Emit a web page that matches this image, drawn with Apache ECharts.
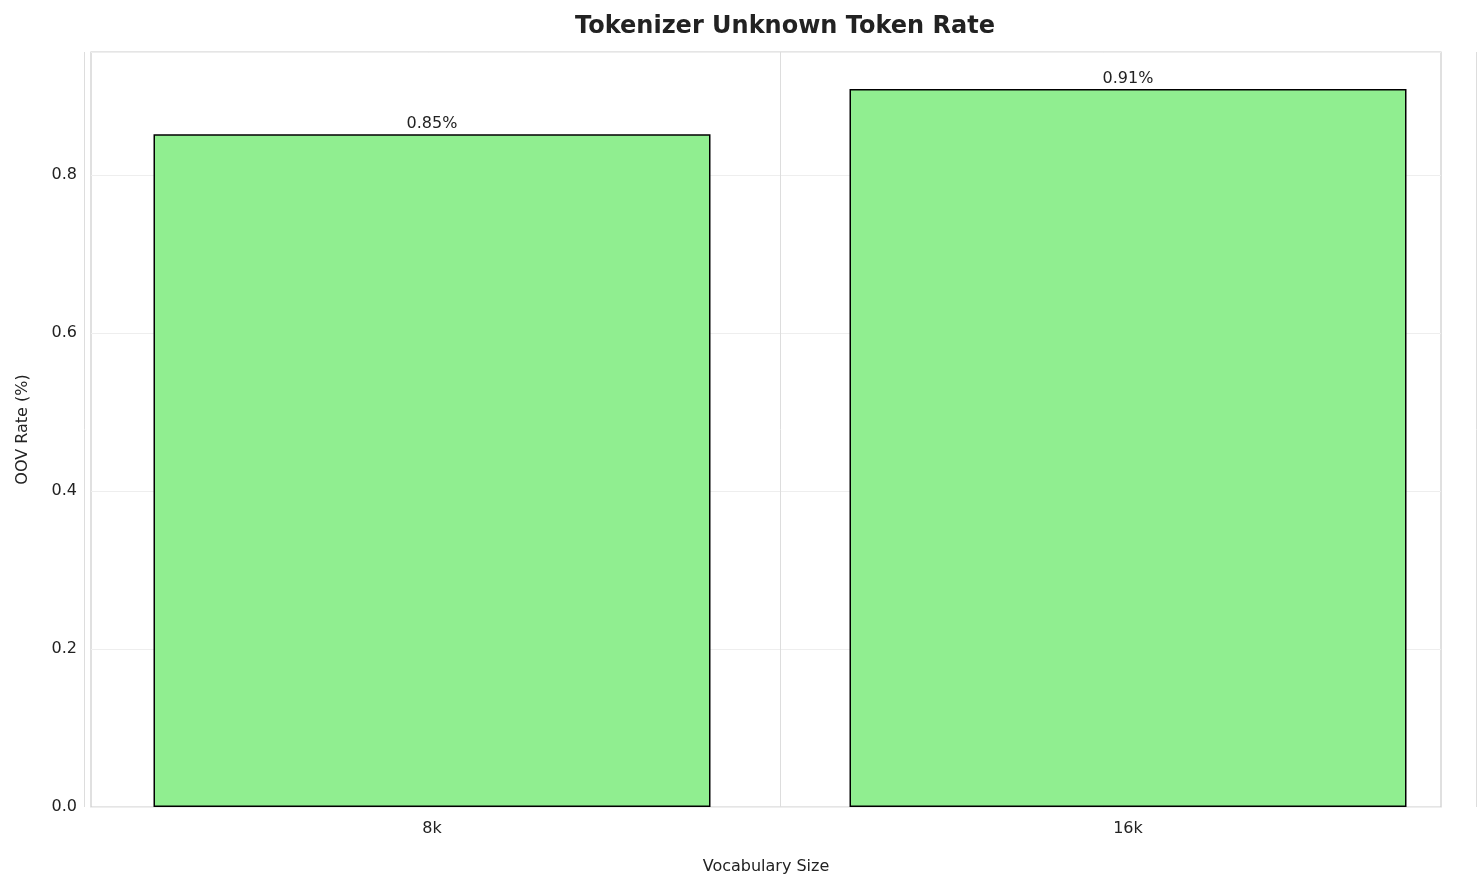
<!DOCTYPE html>
<html><head><meta charset="utf-8">
<script src="https://cdn.jsdelivr.net/npm/echarts@6/dist/echarts.min.js"></script>
<style>html,body{margin:0;padding:0;background:#fff}#c{width:1484px;height:885px}</style>
</head><body><div id="c"></div>
<script>
const categories = ['8k', '16k'];
const oovRate = [0.852, 0.909];
const yTicks = [0, 0.2, 0.4, 0.6, 0.8];
const font = 'DejaVu Sans';
const chart = echarts.init(document.getElementById('c'));
chart.setOption({
  animation: false,
  textStyle: {fontFamily: font},
  title: {text: 'Tokenizer Unknown Token Rate', left: 780, textAlign: 'center', top: 10,
    textStyle: {fontSize: 24, fontWeight: 'bold', color: '#222', fontFamily: font}},
  grid: [
    {left: 91, right: 43, top: 52, bottom: 78, show: true, borderColor: '#ccc', borderWidth: 1.2},
    {left: 84, right: 8, top: 52, bottom: 78}
  ],
  xAxis: [
    {gridIndex: 0, type: 'value', min: 0, max: 1, axisLabel: {show: false}, axisTick: {show: false},
      axisLine: {show: false}, splitLine: {show: false},
      name: 'Vocabulary Size', nameLocation: 'middle', nameGap: 52,
      nameTextStyle: {fontSize: 16, color: '#222'}},
    {gridIndex: 1, type: 'category', data: categories, axisTick: {show: false}, axisLine: {show: false},
      axisLabel: {fontSize: 16, color: '#222', margin: 14},
      splitLine: {show: true, interval: 0, lineStyle: {color: '#ddd'}}}
  ],
  yAxis: [
    {gridIndex: 0, type: 'value', min: 0, max: 0.956, interval: 0.2,
      axisLabel: {fontSize: 16, color: '#222', margin: 14, formatter: v => yTicks.includes(+v.toFixed(1)) ? v.toFixed(1) : ''},
      axisTick: {show: false}, axisLine: {show: false},
      splitLine: {lineStyle: {color: '#eee'}},
      name: 'OOV Rate (%)', nameLocation: 'middle', nameGap: 60, nameTextStyle: {fontSize: 16, color: '#222'}},
    {gridIndex: 1, type: 'value', min: 0, max: 0.956, show: false}
  ],
  series: [{
    type: 'bar', xAxisIndex: 1, yAxisIndex: 1, data: oovRate, barWidth: 557,
    itemStyle: {color: '#90EE90', borderColor: '#000', borderWidth: 1.5},
    label: {show: true, position: 'top', distance: 2, fontSize: 16, color: '#222', formatter: p => p.value.toFixed(2) + '%'}
  }]
});
</script></body></html>
